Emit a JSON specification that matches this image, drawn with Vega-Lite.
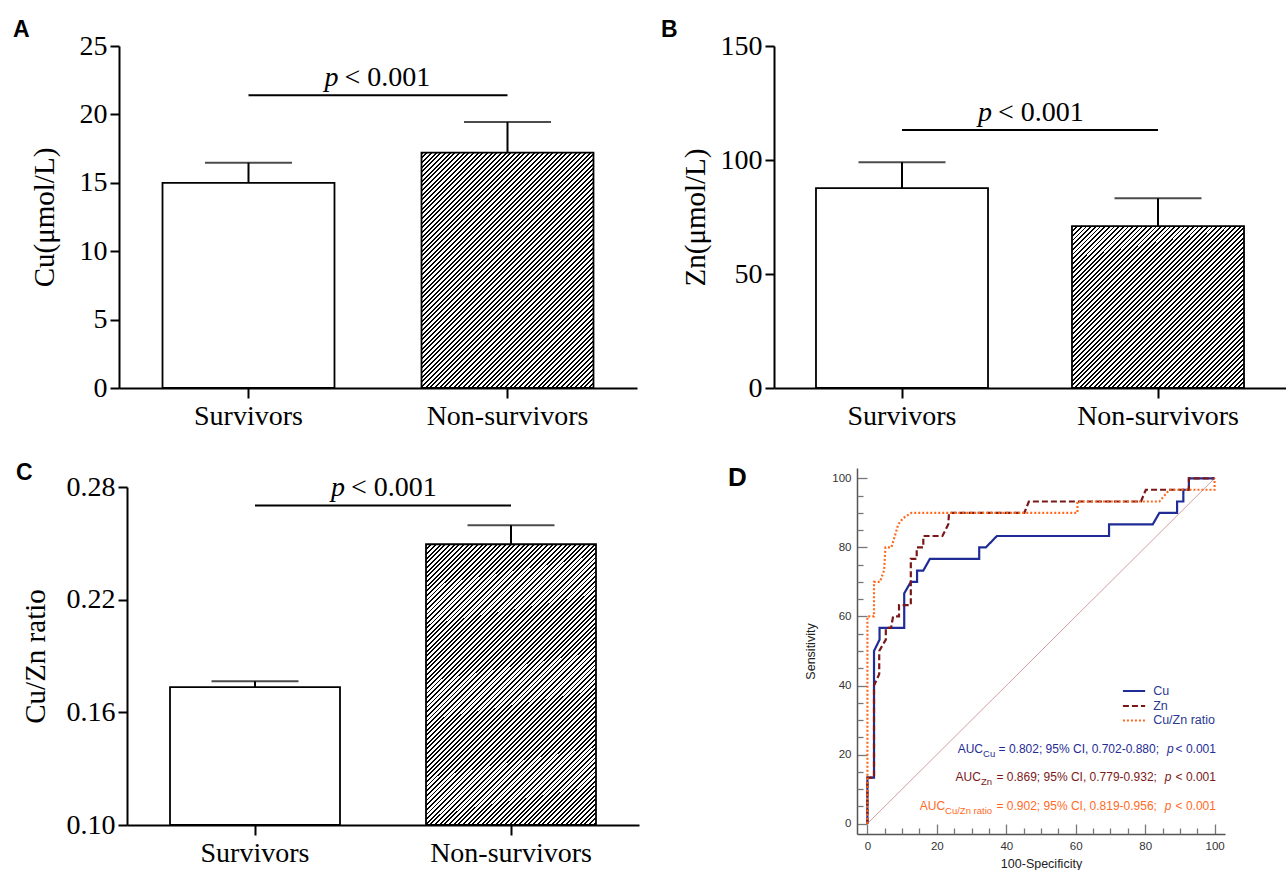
{
"$schema":"https://vega.github.io/schema/vega-lite/v6.json",
"padding":{"left":13,"top":18,"right":0,"bottom":0},
"background":"white",
"bounds":"flush",
"columns":2,
"spacing":{"row":80,"column":135},
"datasets":{
"stripes":[],
"roc":[
{"s":"Cu","i":0,"fx":0,"fy":0},{"s":"Cu","i":1,"fx":0,"fy":13.3},{"s":"Cu","i":2,"fx":1.9,"fy":13.3},{"s":"Cu","i":3,"fx":1.9,"fy":50},{"s":"Cu","i":4,"fx":3.5,"fy":53.3},{"s":"Cu","i":5,"fx":3.5,"fy":56.7},{"s":"Cu","i":6,"fx":10.6,"fy":56.7},{"s":"Cu","i":7,"fx":10.6,"fy":66.7},{"s":"Cu","i":8,"fx":12.5,"fy":70},{"s":"Cu","i":9,"fx":14.3,"fy":70},{"s":"Cu","i":10,"fx":14.3,"fy":73.3},{"s":"Cu","i":11,"fx":16.1,"fy":73.3},{"s":"Cu","i":12,"fx":18,"fy":76.7},{"s":"Cu","i":13,"fx":32.2,"fy":76.7},{"s":"Cu","i":14,"fx":32.2,"fy":80},{"s":"Cu","i":15,"fx":34.1,"fy":80},{"s":"Cu","i":16,"fx":37.3,"fy":83.3},{"s":"Cu","i":17,"fx":69.6,"fy":83.3},{"s":"Cu","i":18,"fx":69.6,"fy":86.7},{"s":"Cu","i":19,"fx":82.2,"fy":86.7},{"s":"Cu","i":20,"fx":84.1,"fy":90},{"s":"Cu","i":21,"fx":89.2,"fy":90},{"s":"Cu","i":22,"fx":89.2,"fy":93.3},{"s":"Cu","i":23,"fx":91,"fy":93.3},{"s":"Cu","i":24,"fx":91,"fy":96.7},{"s":"Cu","i":25,"fx":92.6,"fy":96.7},{"s":"Cu","i":26,"fx":92.6,"fy":100},{"s":"Cu","i":27,"fx":100,"fy":100},
{"s":"Zn","i":0,"fx":0,"fy":0},{"s":"Zn","i":1,"fx":0,"fy":13.3},{"s":"Zn","i":2,"fx":1.9,"fy":13.3},{"s":"Zn","i":3,"fx":1.9,"fy":40},{"s":"Zn","i":4,"fx":3.4,"fy":43.3},{"s":"Zn","i":5,"fx":3.4,"fy":50},{"s":"Zn","i":6,"fx":5.3,"fy":53.3},{"s":"Zn","i":7,"fx":5.3,"fy":56.7},{"s":"Zn","i":8,"fx":6.8,"fy":56.7},{"s":"Zn","i":9,"fx":7.4,"fy":60},{"s":"Zn","i":10,"fx":9.1,"fy":60},{"s":"Zn","i":11,"fx":9.1,"fy":63.3},{"s":"Zn","i":12,"fx":12.5,"fy":63.3},{"s":"Zn","i":13,"fx":12.5,"fy":76.7},{"s":"Zn","i":14,"fx":14.2,"fy":76.7},{"s":"Zn","i":15,"fx":14.2,"fy":80},{"s":"Zn","i":16,"fx":16.1,"fy":80},{"s":"Zn","i":17,"fx":16.1,"fy":83.3},{"s":"Zn","i":18,"fx":21.6,"fy":83.3},{"s":"Zn","i":19,"fx":23.3,"fy":86.7},{"s":"Zn","i":20,"fx":23.5,"fy":90},{"s":"Zn","i":21,"fx":45.2,"fy":90},{"s":"Zn","i":22,"fx":46.5,"fy":93.3},{"s":"Zn","i":23,"fx":78.8,"fy":93.3},{"s":"Zn","i":24,"fx":80.2,"fy":96.7},{"s":"Zn","i":25,"fx":92.6,"fy":96.7},{"s":"Zn","i":26,"fx":92.6,"fy":100},{"s":"Zn","i":27,"fx":100,"fy":100},
{"s":"Cu/Zn ratio","i":0,"fx":0,"fy":0},{"s":"Cu/Zn ratio","i":1,"fx":0,"fy":60},{"s":"Cu/Zn ratio","i":2,"fx":1.9,"fy":60},{"s":"Cu/Zn ratio","i":3,"fx":1.9,"fy":70},{"s":"Cu/Zn ratio","i":4,"fx":3.6,"fy":70},{"s":"Cu/Zn ratio","i":5,"fx":4.8,"fy":73.3},{"s":"Cu/Zn ratio","i":6,"fx":5.2,"fy":80},{"s":"Cu/Zn ratio","i":7,"fx":6.9,"fy":80},{"s":"Cu/Zn ratio","i":8,"fx":7.9,"fy":83.3},{"s":"Cu/Zn ratio","i":9,"fx":8.9,"fy":86.7},{"s":"Cu/Zn ratio","i":10,"fx":10.3,"fy":88.5},{"s":"Cu/Zn ratio","i":11,"fx":12.7,"fy":90},{"s":"Cu/Zn ratio","i":12,"fx":60.5,"fy":90},{"s":"Cu/Zn ratio","i":13,"fx":60.5,"fy":93.3},{"s":"Cu/Zn ratio","i":14,"fx":84.1,"fy":93.3},{"s":"Cu/Zn ratio","i":15,"fx":87,"fy":96.7},{"s":"Cu/Zn ratio","i":16,"fx":100,"fy":96.7},{"s":"Cu/Zn ratio","i":17,"fx":100,"fy":100}
],
"diag":[{"fx":0,"fy":0},{"fx":100,"fy":100}],
"leg":[
{"s":"Cu","x1":73.6,"x2":80.0,"tx":82.3,"ly":38.4},
{"s":"Zn","x1":73.6,"x2":80.0,"tx":82.3,"ly":34.1},
{"s":"Cu/Zn ratio","x1":73.6,"x2":80.0,"tx":82.3,"ly":29.9}
],
"auc":[
{"s":"Cu","y":21.5,"a":"AUC","sub":"Cu","body":"= 0.802; 95% CI, 0.702-0.880;","p":"p","t":"< 0.001","xa":33.3,"xs":36.8,"xb":84.0,"xp":88.2,"xt":100.4},
{"s":"Zn","y":13.4,"a":"AUC","sub":"Zn","body":"= 0.869; 95% CI, 0.779-0.932;","p":"p","t":"< 0.001","xa":32.7,"xs":35.9,"xb":83.4,"xp":87.6,"xt":100.4},
{"s":"Cu/Zn ratio","y":5.1,"a":"AUC","sub":"Cu/Zn ratio","body":"= 0.902; 95% CI, 0.819-0.956;","p":"p","t":"< 0.001","xa":22.4,"xs":35.9,"xb":83.4,"xp":87.6,"xt":100.4}
]
},
"concat":[
{"width":518,"height":342,
"title":{"text":"A","fontSize":23,"dx":-106,"dy":13.7},
"data":{"values":[{"group":"Survivors","mean":15.0,"err":16.47},{"group":"Non-survivors","mean":17.2,"err":19.44}]},
"encoding":{"x":{"field":"group","type":"nominal","sort":["Survivors","Non-survivors"],"title":null,"scale":{"domain":["Survivors","Non-survivors"],"paddingInner":0.336,"paddingOuter":0.168}}},
"layer":[
{"mark":{"type":"rule","color":"#000","strokeWidth":2},"encoding":{"y":{"field":"mean","type":"quantitative","title":"Cu(μmol/L)","scale":{"domain":[0,25],"nice":false},"axis":{"values":[0,5,10,15,20,25],"titlePadding":20}},"y2":{"field":"err"}}},
{"mark":{"type":"tick","color":"#000","size":87,"thickness":2},"encoding":{"y":{"field":"err","type":"quantitative","title":"Cu(μmol/L)"}}},
{"transform":[{"filter":"datum.group == 'Survivors'"}],"mark":{"type":"bar","fill":"#fff","stroke":"#000","strokeWidth":1.8},"encoding":{"y":{"field":"mean","type":"quantitative","title":"Cu(μmol/L)"}}},
{"transform":[{"filter":"datum.group == 'Non-survivors'"}],"mark":{"type":"bar","stroke":"#000","strokeWidth":1.8,"fill":{"gradient":"linear","x1":0,"y1":0,"x2":0.945,"y2":1.293,"stops":[{"offset":0,"color":"#000"},{"offset":0.004,"color":"#000"},{"offset":0.004,"color":"#fff"},{"offset":0.01,"color":"#fff"},{"offset":0.01,"color":"#000"},{"offset":0.014,"color":"#000"},{"offset":0.014,"color":"#fff"},{"offset":0.02,"color":"#fff"},{"offset":0.02,"color":"#000"},{"offset":0.024,"color":"#000"},{"offset":0.024,"color":"#fff"},{"offset":0.03,"color":"#fff"},{"offset":0.03,"color":"#000"},{"offset":0.034,"color":"#000"},{"offset":0.034,"color":"#fff"},{"offset":0.04,"color":"#fff"},{"offset":0.04,"color":"#000"},{"offset":0.044,"color":"#000"},{"offset":0.044,"color":"#fff"},{"offset":0.05,"color":"#fff"},{"offset":0.05,"color":"#000"},{"offset":0.054,"color":"#000"},{"offset":0.054,"color":"#fff"},{"offset":0.06,"color":"#fff"},{"offset":0.06,"color":"#000"},{"offset":0.064,"color":"#000"},{"offset":0.064,"color":"#fff"},{"offset":0.07,"color":"#fff"},{"offset":0.07,"color":"#000"},{"offset":0.074,"color":"#000"},{"offset":0.074,"color":"#fff"},{"offset":0.08,"color":"#fff"},{"offset":0.08,"color":"#000"},{"offset":0.084,"color":"#000"},{"offset":0.084,"color":"#fff"},{"offset":0.09,"color":"#fff"},{"offset":0.09,"color":"#000"},{"offset":0.094,"color":"#000"},{"offset":0.094,"color":"#fff"},{"offset":0.1,"color":"#fff"},{"offset":0.1,"color":"#000"},{"offset":0.104,"color":"#000"},{"offset":0.104,"color":"#fff"},{"offset":0.11,"color":"#fff"},{"offset":0.11,"color":"#000"},{"offset":0.114,"color":"#000"},{"offset":0.114,"color":"#fff"},{"offset":0.12,"color":"#fff"},{"offset":0.12,"color":"#000"},{"offset":0.124,"color":"#000"},{"offset":0.124,"color":"#fff"},{"offset":0.13,"color":"#fff"},{"offset":0.13,"color":"#000"},{"offset":0.134,"color":"#000"},{"offset":0.134,"color":"#fff"},{"offset":0.14,"color":"#fff"},{"offset":0.14,"color":"#000"},{"offset":0.144,"color":"#000"},{"offset":0.144,"color":"#fff"},{"offset":0.15,"color":"#fff"},{"offset":0.15,"color":"#000"},{"offset":0.154,"color":"#000"},{"offset":0.154,"color":"#fff"},{"offset":0.16,"color":"#fff"},{"offset":0.16,"color":"#000"},{"offset":0.164,"color":"#000"},{"offset":0.164,"color":"#fff"},{"offset":0.17,"color":"#fff"},{"offset":0.17,"color":"#000"},{"offset":0.174,"color":"#000"},{"offset":0.174,"color":"#fff"},{"offset":0.18,"color":"#fff"},{"offset":0.18,"color":"#000"},{"offset":0.184,"color":"#000"},{"offset":0.184,"color":"#fff"},{"offset":0.19,"color":"#fff"},{"offset":0.19,"color":"#000"},{"offset":0.194,"color":"#000"},{"offset":0.194,"color":"#fff"},{"offset":0.2,"color":"#fff"},{"offset":0.2,"color":"#000"},{"offset":0.204,"color":"#000"},{"offset":0.204,"color":"#fff"},{"offset":0.21,"color":"#fff"},{"offset":0.21,"color":"#000"},{"offset":0.214,"color":"#000"},{"offset":0.214,"color":"#fff"},{"offset":0.22,"color":"#fff"},{"offset":0.22,"color":"#000"},{"offset":0.224,"color":"#000"},{"offset":0.224,"color":"#fff"},{"offset":0.23,"color":"#fff"},{"offset":0.23,"color":"#000"},{"offset":0.234,"color":"#000"},{"offset":0.234,"color":"#fff"},{"offset":0.24,"color":"#fff"},{"offset":0.24,"color":"#000"},{"offset":0.244,"color":"#000"},{"offset":0.244,"color":"#fff"},{"offset":0.25,"color":"#fff"},{"offset":0.25,"color":"#000"},{"offset":0.254,"color":"#000"},{"offset":0.254,"color":"#fff"},{"offset":0.26,"color":"#fff"},{"offset":0.26,"color":"#000"},{"offset":0.264,"color":"#000"},{"offset":0.264,"color":"#fff"},{"offset":0.27,"color":"#fff"},{"offset":0.27,"color":"#000"},{"offset":0.274,"color":"#000"},{"offset":0.274,"color":"#fff"},{"offset":0.28,"color":"#fff"},{"offset":0.28,"color":"#000"},{"offset":0.284,"color":"#000"},{"offset":0.284,"color":"#fff"},{"offset":0.29,"color":"#fff"},{"offset":0.29,"color":"#000"},{"offset":0.294,"color":"#000"},{"offset":0.294,"color":"#fff"},{"offset":0.3,"color":"#fff"},{"offset":0.3,"color":"#000"},{"offset":0.304,"color":"#000"},{"offset":0.304,"color":"#fff"},{"offset":0.31,"color":"#fff"},{"offset":0.31,"color":"#000"},{"offset":0.314,"color":"#000"},{"offset":0.314,"color":"#fff"},{"offset":0.32,"color":"#fff"},{"offset":0.32,"color":"#000"},{"offset":0.324,"color":"#000"},{"offset":0.324,"color":"#fff"},{"offset":0.33,"color":"#fff"},{"offset":0.33,"color":"#000"},{"offset":0.334,"color":"#000"},{"offset":0.334,"color":"#fff"},{"offset":0.34,"color":"#fff"},{"offset":0.34,"color":"#000"},{"offset":0.344,"color":"#000"},{"offset":0.344,"color":"#fff"},{"offset":0.35,"color":"#fff"},{"offset":0.35,"color":"#000"},{"offset":0.354,"color":"#000"},{"offset":0.354,"color":"#fff"},{"offset":0.36,"color":"#fff"},{"offset":0.36,"color":"#000"},{"offset":0.364,"color":"#000"},{"offset":0.364,"color":"#fff"},{"offset":0.37,"color":"#fff"},{"offset":0.37,"color":"#000"},{"offset":0.374,"color":"#000"},{"offset":0.374,"color":"#fff"},{"offset":0.38,"color":"#fff"},{"offset":0.38,"color":"#000"},{"offset":0.384,"color":"#000"},{"offset":0.384,"color":"#fff"},{"offset":0.39,"color":"#fff"},{"offset":0.39,"color":"#000"},{"offset":0.394,"color":"#000"},{"offset":0.394,"color":"#fff"},{"offset":0.4,"color":"#fff"},{"offset":0.4,"color":"#000"},{"offset":0.404,"color":"#000"},{"offset":0.404,"color":"#fff"},{"offset":0.41,"color":"#fff"},{"offset":0.41,"color":"#000"},{"offset":0.414,"color":"#000"},{"offset":0.414,"color":"#fff"},{"offset":0.42,"color":"#fff"},{"offset":0.42,"color":"#000"},{"offset":0.424,"color":"#000"},{"offset":0.424,"color":"#fff"},{"offset":0.43,"color":"#fff"},{"offset":0.43,"color":"#000"},{"offset":0.434,"color":"#000"},{"offset":0.434,"color":"#fff"},{"offset":0.44,"color":"#fff"},{"offset":0.44,"color":"#000"},{"offset":0.444,"color":"#000"},{"offset":0.444,"color":"#fff"},{"offset":0.45,"color":"#fff"},{"offset":0.45,"color":"#000"},{"offset":0.454,"color":"#000"},{"offset":0.454,"color":"#fff"},{"offset":0.46,"color":"#fff"},{"offset":0.46,"color":"#000"},{"offset":0.464,"color":"#000"},{"offset":0.464,"color":"#fff"},{"offset":0.47,"color":"#fff"},{"offset":0.47,"color":"#000"},{"offset":0.474,"color":"#000"},{"offset":0.474,"color":"#fff"},{"offset":0.48,"color":"#fff"},{"offset":0.48,"color":"#000"},{"offset":0.484,"color":"#000"},{"offset":0.484,"color":"#fff"},{"offset":0.49,"color":"#fff"},{"offset":0.49,"color":"#000"},{"offset":0.494,"color":"#000"},{"offset":0.494,"color":"#fff"},{"offset":0.5,"color":"#fff"},{"offset":0.5,"color":"#000"},{"offset":0.504,"color":"#000"},{"offset":0.504,"color":"#fff"},{"offset":0.51,"color":"#fff"},{"offset":0.51,"color":"#000"},{"offset":0.514,"color":"#000"},{"offset":0.514,"color":"#fff"},{"offset":0.52,"color":"#fff"},{"offset":0.52,"color":"#000"},{"offset":0.524,"color":"#000"},{"offset":0.524,"color":"#fff"},{"offset":0.53,"color":"#fff"},{"offset":0.53,"color":"#000"},{"offset":0.534,"color":"#000"},{"offset":0.534,"color":"#fff"},{"offset":0.54,"color":"#fff"},{"offset":0.54,"color":"#000"},{"offset":0.544,"color":"#000"},{"offset":0.544,"color":"#fff"},{"offset":0.55,"color":"#fff"},{"offset":0.55,"color":"#000"},{"offset":0.554,"color":"#000"},{"offset":0.554,"color":"#fff"},{"offset":0.56,"color":"#fff"},{"offset":0.56,"color":"#000"},{"offset":0.564,"color":"#000"},{"offset":0.564,"color":"#fff"},{"offset":0.57,"color":"#fff"},{"offset":0.57,"color":"#000"},{"offset":0.574,"color":"#000"},{"offset":0.574,"color":"#fff"},{"offset":0.58,"color":"#fff"},{"offset":0.58,"color":"#000"},{"offset":0.584,"color":"#000"},{"offset":0.584,"color":"#fff"},{"offset":0.59,"color":"#fff"},{"offset":0.59,"color":"#000"},{"offset":0.594,"color":"#000"},{"offset":0.594,"color":"#fff"},{"offset":0.6,"color":"#fff"},{"offset":0.6,"color":"#000"},{"offset":0.604,"color":"#000"},{"offset":0.604,"color":"#fff"},{"offset":0.61,"color":"#fff"},{"offset":0.61,"color":"#000"},{"offset":0.614,"color":"#000"},{"offset":0.614,"color":"#fff"},{"offset":0.62,"color":"#fff"},{"offset":0.62,"color":"#000"},{"offset":0.624,"color":"#000"},{"offset":0.624,"color":"#fff"},{"offset":0.63,"color":"#fff"},{"offset":0.63,"color":"#000"},{"offset":0.634,"color":"#000"},{"offset":0.634,"color":"#fff"},{"offset":0.64,"color":"#fff"},{"offset":0.64,"color":"#000"},{"offset":0.644,"color":"#000"},{"offset":0.644,"color":"#fff"},{"offset":0.65,"color":"#fff"},{"offset":0.65,"color":"#000"},{"offset":0.654,"color":"#000"},{"offset":0.654,"color":"#fff"},{"offset":0.66,"color":"#fff"},{"offset":0.66,"color":"#000"},{"offset":0.664,"color":"#000"},{"offset":0.664,"color":"#fff"},{"offset":0.67,"color":"#fff"},{"offset":0.67,"color":"#000"},{"offset":0.674,"color":"#000"},{"offset":0.674,"color":"#fff"},{"offset":0.68,"color":"#fff"},{"offset":0.68,"color":"#000"},{"offset":0.684,"color":"#000"},{"offset":0.684,"color":"#fff"},{"offset":0.69,"color":"#fff"},{"offset":0.69,"color":"#000"},{"offset":0.694,"color":"#000"},{"offset":0.694,"color":"#fff"},{"offset":0.7,"color":"#fff"},{"offset":0.7,"color":"#000"},{"offset":0.704,"color":"#000"},{"offset":0.704,"color":"#fff"},{"offset":0.71,"color":"#fff"},{"offset":0.71,"color":"#000"},{"offset":0.714,"color":"#000"},{"offset":0.714,"color":"#fff"},{"offset":0.72,"color":"#fff"},{"offset":0.72,"color":"#000"},{"offset":0.724,"color":"#000"},{"offset":0.724,"color":"#fff"},{"offset":0.73,"color":"#fff"},{"offset":0.73,"color":"#000"},{"offset":0.734,"color":"#000"},{"offset":0.734,"color":"#fff"},{"offset":0.74,"color":"#fff"},{"offset":0.74,"color":"#000"},{"offset":0.744,"color":"#000"},{"offset":0.744,"color":"#fff"},{"offset":0.75,"color":"#fff"},{"offset":0.75,"color":"#000"},{"offset":0.754,"color":"#000"},{"offset":0.754,"color":"#fff"},{"offset":0.76,"color":"#fff"},{"offset":0.76,"color":"#000"},{"offset":0.764,"color":"#000"},{"offset":0.764,"color":"#fff"},{"offset":0.77,"color":"#fff"},{"offset":0.77,"color":"#000"},{"offset":0.774,"color":"#000"},{"offset":0.774,"color":"#fff"},{"offset":0.78,"color":"#fff"},{"offset":0.78,"color":"#000"},{"offset":0.784,"color":"#000"},{"offset":0.784,"color":"#fff"},{"offset":0.79,"color":"#fff"},{"offset":0.79,"color":"#000"},{"offset":0.794,"color":"#000"},{"offset":0.794,"color":"#fff"},{"offset":0.8,"color":"#fff"},{"offset":0.8,"color":"#000"},{"offset":0.804,"color":"#000"},{"offset":0.804,"color":"#fff"},{"offset":0.81,"color":"#fff"},{"offset":0.81,"color":"#000"},{"offset":0.814,"color":"#000"},{"offset":0.814,"color":"#fff"},{"offset":0.82,"color":"#fff"},{"offset":0.82,"color":"#000"},{"offset":0.824,"color":"#000"},{"offset":0.824,"color":"#fff"},{"offset":0.83,"color":"#fff"},{"offset":0.83,"color":"#000"},{"offset":0.834,"color":"#000"},{"offset":0.834,"color":"#fff"},{"offset":0.84,"color":"#fff"},{"offset":0.84,"color":"#000"},{"offset":0.844,"color":"#000"},{"offset":0.844,"color":"#fff"},{"offset":0.85,"color":"#fff"},{"offset":0.85,"color":"#000"},{"offset":0.854,"color":"#000"},{"offset":0.854,"color":"#fff"},{"offset":0.86,"color":"#fff"},{"offset":0.86,"color":"#000"},{"offset":0.864,"color":"#000"},{"offset":0.864,"color":"#fff"},{"offset":0.87,"color":"#fff"},{"offset":0.87,"color":"#000"},{"offset":0.874,"color":"#000"},{"offset":0.874,"color":"#fff"},{"offset":0.88,"color":"#fff"},{"offset":0.88,"color":"#000"},{"offset":0.884,"color":"#000"},{"offset":0.884,"color":"#fff"},{"offset":0.89,"color":"#fff"},{"offset":0.89,"color":"#000"},{"offset":0.894,"color":"#000"},{"offset":0.894,"color":"#fff"},{"offset":0.9,"color":"#fff"},{"offset":0.9,"color":"#000"},{"offset":0.904,"color":"#000"},{"offset":0.904,"color":"#fff"},{"offset":0.91,"color":"#fff"},{"offset":0.91,"color":"#000"},{"offset":0.914,"color":"#000"},{"offset":0.914,"color":"#fff"},{"offset":0.92,"color":"#fff"},{"offset":0.92,"color":"#000"},{"offset":0.924,"color":"#000"},{"offset":0.924,"color":"#fff"},{"offset":0.93,"color":"#fff"},{"offset":0.93,"color":"#000"},{"offset":0.934,"color":"#000"},{"offset":0.934,"color":"#fff"},{"offset":0.94,"color":"#fff"},{"offset":0.94,"color":"#000"},{"offset":0.944,"color":"#000"},{"offset":0.944,"color":"#fff"},{"offset":0.95,"color":"#fff"},{"offset":0.95,"color":"#000"},{"offset":0.954,"color":"#000"},{"offset":0.954,"color":"#fff"},{"offset":0.96,"color":"#fff"},{"offset":0.96,"color":"#000"},{"offset":0.964,"color":"#000"},{"offset":0.964,"color":"#fff"},{"offset":0.97,"color":"#fff"},{"offset":0.97,"color":"#000"},{"offset":0.974,"color":"#000"},{"offset":0.974,"color":"#fff"},{"offset":0.98,"color":"#fff"},{"offset":0.98,"color":"#000"},{"offset":0.984,"color":"#000"},{"offset":0.984,"color":"#fff"},{"offset":0.99,"color":"#fff"},{"offset":0.99,"color":"#000"},{"offset":0.994,"color":"#000"},{"offset":0.994,"color":"#fff"},{"offset":1,"color":"#fff"}]}},"encoding":{"y":{"field":"mean","type":"quantitative","title":"Cu(μmol/L)"}}},
{"data":{"values":[{"a":"Survivors","b":"Non-survivors","y":21.4}]},"mark":{"type":"rule","color":"#000","strokeWidth":2},"encoding":{"x":{"field":"a","type":"nominal","sort":["Survivors","Non-survivors"],"title":null},"x2":{"field":"b"},"y":{"field":"y","type":"quantitative","title":"Cu(μmol/L)"}}},
{"data":{"values":[{"a":"Survivors","y":21.4,"p":"p"}]},"mark":{"type":"text","align":"right","baseline":"alphabetic","dx":90,"dy":-9,"font":"Liberation Serif","fontStyle":"italic","fontSize":28,"color":"#000"},"encoding":{"x":{"field":"a","type":"nominal","sort":["Survivors","Non-survivors"],"title":null},"y":{"field":"y","type":"quantitative","title":"Cu(μmol/L)"},"text":{"field":"p"}}},
{"data":{"values":[{"a":"Survivors","y":21.4,"rest":"< 0.001"}]},"mark":{"type":"text","align":"left","baseline":"alphabetic","dx":96,"dy":-9,"font":"Liberation Serif","fontSize":28,"color":"#000"},"encoding":{"x":{"field":"a","type":"nominal","sort":["Survivors","Non-survivors"],"title":null},"y":{"field":"y","type":"quantitative","title":"Cu(μmol/L)"},"text":{"field":"rest"}}}
]},
{"width":512,"height":342,
"title":{"text":"B","fontSize":23,"dx":-113,"dy":13.5},
"data":{"values":[{"group":"Survivors","mean":87.7,"err":99.0},{"group":"Non-survivors","mean":71.0,"err":83.2}]},
"encoding":{"x":{"field":"group","type":"nominal","sort":["Survivors","Non-survivors"],"title":null,"scale":{"domain":["Survivors","Non-survivors"],"paddingInner":0.328,"paddingOuter":0.164}}},
"layer":[
{"mark":{"type":"rule","color":"#000","strokeWidth":2},"encoding":{"y":{"field":"mean","type":"quantitative","title":"Zn(μmol/L)","scale":{"domain":[0,150],"nice":false},"axis":{"values":[0,50,100,150],"titlePadding":10}},"y2":{"field":"err"}}},
{"mark":{"type":"tick","color":"#000","size":87,"thickness":2},"encoding":{"y":{"field":"err","type":"quantitative","title":"Zn(μmol/L)"}}},
{"transform":[{"filter":"datum.group == 'Survivors'"}],"mark":{"type":"bar","fill":"#fff","stroke":"#000","strokeWidth":1.8},"encoding":{"y":{"field":"mean","type":"quantitative","title":"Zn(μmol/L)"}}},
{"transform":[{"filter":"datum.group == 'Non-survivors'"}],"mark":{"type":"bar","stroke":"#000","strokeWidth":1.8,"fill":{"gradient":"linear","x1":0,"y1":0,"x2":1.44,"y2":1.354,"stops":[{"offset":0,"color":"#000"},{"offset":0.004,"color":"#000"},{"offset":0.004,"color":"#fff"},{"offset":0.01,"color":"#fff"},{"offset":0.01,"color":"#000"},{"offset":0.014,"color":"#000"},{"offset":0.014,"color":"#fff"},{"offset":0.02,"color":"#fff"},{"offset":0.02,"color":"#000"},{"offset":0.024,"color":"#000"},{"offset":0.024,"color":"#fff"},{"offset":0.03,"color":"#fff"},{"offset":0.03,"color":"#000"},{"offset":0.034,"color":"#000"},{"offset":0.034,"color":"#fff"},{"offset":0.04,"color":"#fff"},{"offset":0.04,"color":"#000"},{"offset":0.044,"color":"#000"},{"offset":0.044,"color":"#fff"},{"offset":0.05,"color":"#fff"},{"offset":0.05,"color":"#000"},{"offset":0.054,"color":"#000"},{"offset":0.054,"color":"#fff"},{"offset":0.06,"color":"#fff"},{"offset":0.06,"color":"#000"},{"offset":0.064,"color":"#000"},{"offset":0.064,"color":"#fff"},{"offset":0.07,"color":"#fff"},{"offset":0.07,"color":"#000"},{"offset":0.074,"color":"#000"},{"offset":0.074,"color":"#fff"},{"offset":0.08,"color":"#fff"},{"offset":0.08,"color":"#000"},{"offset":0.084,"color":"#000"},{"offset":0.084,"color":"#fff"},{"offset":0.09,"color":"#fff"},{"offset":0.09,"color":"#000"},{"offset":0.094,"color":"#000"},{"offset":0.094,"color":"#fff"},{"offset":0.1,"color":"#fff"},{"offset":0.1,"color":"#000"},{"offset":0.104,"color":"#000"},{"offset":0.104,"color":"#fff"},{"offset":0.11,"color":"#fff"},{"offset":0.11,"color":"#000"},{"offset":0.114,"color":"#000"},{"offset":0.114,"color":"#fff"},{"offset":0.12,"color":"#fff"},{"offset":0.12,"color":"#000"},{"offset":0.124,"color":"#000"},{"offset":0.124,"color":"#fff"},{"offset":0.13,"color":"#fff"},{"offset":0.13,"color":"#000"},{"offset":0.134,"color":"#000"},{"offset":0.134,"color":"#fff"},{"offset":0.14,"color":"#fff"},{"offset":0.14,"color":"#000"},{"offset":0.144,"color":"#000"},{"offset":0.144,"color":"#fff"},{"offset":0.15,"color":"#fff"},{"offset":0.15,"color":"#000"},{"offset":0.154,"color":"#000"},{"offset":0.154,"color":"#fff"},{"offset":0.16,"color":"#fff"},{"offset":0.16,"color":"#000"},{"offset":0.164,"color":"#000"},{"offset":0.164,"color":"#fff"},{"offset":0.17,"color":"#fff"},{"offset":0.17,"color":"#000"},{"offset":0.174,"color":"#000"},{"offset":0.174,"color":"#fff"},{"offset":0.18,"color":"#fff"},{"offset":0.18,"color":"#000"},{"offset":0.184,"color":"#000"},{"offset":0.184,"color":"#fff"},{"offset":0.19,"color":"#fff"},{"offset":0.19,"color":"#000"},{"offset":0.194,"color":"#000"},{"offset":0.194,"color":"#fff"},{"offset":0.2,"color":"#fff"},{"offset":0.2,"color":"#000"},{"offset":0.204,"color":"#000"},{"offset":0.204,"color":"#fff"},{"offset":0.21,"color":"#fff"},{"offset":0.21,"color":"#000"},{"offset":0.214,"color":"#000"},{"offset":0.214,"color":"#fff"},{"offset":0.22,"color":"#fff"},{"offset":0.22,"color":"#000"},{"offset":0.224,"color":"#000"},{"offset":0.224,"color":"#fff"},{"offset":0.23,"color":"#fff"},{"offset":0.23,"color":"#000"},{"offset":0.234,"color":"#000"},{"offset":0.234,"color":"#fff"},{"offset":0.24,"color":"#fff"},{"offset":0.24,"color":"#000"},{"offset":0.244,"color":"#000"},{"offset":0.244,"color":"#fff"},{"offset":0.25,"color":"#fff"},{"offset":0.25,"color":"#000"},{"offset":0.254,"color":"#000"},{"offset":0.254,"color":"#fff"},{"offset":0.26,"color":"#fff"},{"offset":0.26,"color":"#000"},{"offset":0.264,"color":"#000"},{"offset":0.264,"color":"#fff"},{"offset":0.27,"color":"#fff"},{"offset":0.27,"color":"#000"},{"offset":0.274,"color":"#000"},{"offset":0.274,"color":"#fff"},{"offset":0.28,"color":"#fff"},{"offset":0.28,"color":"#000"},{"offset":0.284,"color":"#000"},{"offset":0.284,"color":"#fff"},{"offset":0.29,"color":"#fff"},{"offset":0.29,"color":"#000"},{"offset":0.294,"color":"#000"},{"offset":0.294,"color":"#fff"},{"offset":0.3,"color":"#fff"},{"offset":0.3,"color":"#000"},{"offset":0.304,"color":"#000"},{"offset":0.304,"color":"#fff"},{"offset":0.31,"color":"#fff"},{"offset":0.31,"color":"#000"},{"offset":0.314,"color":"#000"},{"offset":0.314,"color":"#fff"},{"offset":0.32,"color":"#fff"},{"offset":0.32,"color":"#000"},{"offset":0.324,"color":"#000"},{"offset":0.324,"color":"#fff"},{"offset":0.33,"color":"#fff"},{"offset":0.33,"color":"#000"},{"offset":0.334,"color":"#000"},{"offset":0.334,"color":"#fff"},{"offset":0.34,"color":"#fff"},{"offset":0.34,"color":"#000"},{"offset":0.344,"color":"#000"},{"offset":0.344,"color":"#fff"},{"offset":0.35,"color":"#fff"},{"offset":0.35,"color":"#000"},{"offset":0.354,"color":"#000"},{"offset":0.354,"color":"#fff"},{"offset":0.36,"color":"#fff"},{"offset":0.36,"color":"#000"},{"offset":0.364,"color":"#000"},{"offset":0.364,"color":"#fff"},{"offset":0.37,"color":"#fff"},{"offset":0.37,"color":"#000"},{"offset":0.374,"color":"#000"},{"offset":0.374,"color":"#fff"},{"offset":0.38,"color":"#fff"},{"offset":0.38,"color":"#000"},{"offset":0.384,"color":"#000"},{"offset":0.384,"color":"#fff"},{"offset":0.39,"color":"#fff"},{"offset":0.39,"color":"#000"},{"offset":0.394,"color":"#000"},{"offset":0.394,"color":"#fff"},{"offset":0.4,"color":"#fff"},{"offset":0.4,"color":"#000"},{"offset":0.404,"color":"#000"},{"offset":0.404,"color":"#fff"},{"offset":0.41,"color":"#fff"},{"offset":0.41,"color":"#000"},{"offset":0.414,"color":"#000"},{"offset":0.414,"color":"#fff"},{"offset":0.42,"color":"#fff"},{"offset":0.42,"color":"#000"},{"offset":0.424,"color":"#000"},{"offset":0.424,"color":"#fff"},{"offset":0.43,"color":"#fff"},{"offset":0.43,"color":"#000"},{"offset":0.434,"color":"#000"},{"offset":0.434,"color":"#fff"},{"offset":0.44,"color":"#fff"},{"offset":0.44,"color":"#000"},{"offset":0.444,"color":"#000"},{"offset":0.444,"color":"#fff"},{"offset":0.45,"color":"#fff"},{"offset":0.45,"color":"#000"},{"offset":0.454,"color":"#000"},{"offset":0.454,"color":"#fff"},{"offset":0.46,"color":"#fff"},{"offset":0.46,"color":"#000"},{"offset":0.464,"color":"#000"},{"offset":0.464,"color":"#fff"},{"offset":0.47,"color":"#fff"},{"offset":0.47,"color":"#000"},{"offset":0.474,"color":"#000"},{"offset":0.474,"color":"#fff"},{"offset":0.48,"color":"#fff"},{"offset":0.48,"color":"#000"},{"offset":0.484,"color":"#000"},{"offset":0.484,"color":"#fff"},{"offset":0.49,"color":"#fff"},{"offset":0.49,"color":"#000"},{"offset":0.494,"color":"#000"},{"offset":0.494,"color":"#fff"},{"offset":0.5,"color":"#fff"},{"offset":0.5,"color":"#000"},{"offset":0.504,"color":"#000"},{"offset":0.504,"color":"#fff"},{"offset":0.51,"color":"#fff"},{"offset":0.51,"color":"#000"},{"offset":0.514,"color":"#000"},{"offset":0.514,"color":"#fff"},{"offset":0.52,"color":"#fff"},{"offset":0.52,"color":"#000"},{"offset":0.524,"color":"#000"},{"offset":0.524,"color":"#fff"},{"offset":0.53,"color":"#fff"},{"offset":0.53,"color":"#000"},{"offset":0.534,"color":"#000"},{"offset":0.534,"color":"#fff"},{"offset":0.54,"color":"#fff"},{"offset":0.54,"color":"#000"},{"offset":0.544,"color":"#000"},{"offset":0.544,"color":"#fff"},{"offset":0.55,"color":"#fff"},{"offset":0.55,"color":"#000"},{"offset":0.554,"color":"#000"},{"offset":0.554,"color":"#fff"},{"offset":0.56,"color":"#fff"},{"offset":0.56,"color":"#000"},{"offset":0.564,"color":"#000"},{"offset":0.564,"color":"#fff"},{"offset":0.57,"color":"#fff"},{"offset":0.57,"color":"#000"},{"offset":0.574,"color":"#000"},{"offset":0.574,"color":"#fff"},{"offset":0.58,"color":"#fff"},{"offset":0.58,"color":"#000"},{"offset":0.584,"color":"#000"},{"offset":0.584,"color":"#fff"},{"offset":0.59,"color":"#fff"},{"offset":0.59,"color":"#000"},{"offset":0.594,"color":"#000"},{"offset":0.594,"color":"#fff"},{"offset":0.6,"color":"#fff"},{"offset":0.6,"color":"#000"},{"offset":0.604,"color":"#000"},{"offset":0.604,"color":"#fff"},{"offset":0.61,"color":"#fff"},{"offset":0.61,"color":"#000"},{"offset":0.614,"color":"#000"},{"offset":0.614,"color":"#fff"},{"offset":0.62,"color":"#fff"},{"offset":0.62,"color":"#000"},{"offset":0.624,"color":"#000"},{"offset":0.624,"color":"#fff"},{"offset":0.63,"color":"#fff"},{"offset":0.63,"color":"#000"},{"offset":0.634,"color":"#000"},{"offset":0.634,"color":"#fff"},{"offset":0.64,"color":"#fff"},{"offset":0.64,"color":"#000"},{"offset":0.644,"color":"#000"},{"offset":0.644,"color":"#fff"},{"offset":0.65,"color":"#fff"},{"offset":0.65,"color":"#000"},{"offset":0.654,"color":"#000"},{"offset":0.654,"color":"#fff"},{"offset":0.66,"color":"#fff"},{"offset":0.66,"color":"#000"},{"offset":0.664,"color":"#000"},{"offset":0.664,"color":"#fff"},{"offset":0.67,"color":"#fff"},{"offset":0.67,"color":"#000"},{"offset":0.674,"color":"#000"},{"offset":0.674,"color":"#fff"},{"offset":0.68,"color":"#fff"},{"offset":0.68,"color":"#000"},{"offset":0.684,"color":"#000"},{"offset":0.684,"color":"#fff"},{"offset":0.69,"color":"#fff"},{"offset":0.69,"color":"#000"},{"offset":0.694,"color":"#000"},{"offset":0.694,"color":"#fff"},{"offset":0.7,"color":"#fff"},{"offset":0.7,"color":"#000"},{"offset":0.704,"color":"#000"},{"offset":0.704,"color":"#fff"},{"offset":0.71,"color":"#fff"},{"offset":0.71,"color":"#000"},{"offset":0.714,"color":"#000"},{"offset":0.714,"color":"#fff"},{"offset":0.72,"color":"#fff"},{"offset":0.72,"color":"#000"},{"offset":0.724,"color":"#000"},{"offset":0.724,"color":"#fff"},{"offset":0.73,"color":"#fff"},{"offset":0.73,"color":"#000"},{"offset":0.734,"color":"#000"},{"offset":0.734,"color":"#fff"},{"offset":0.74,"color":"#fff"},{"offset":0.74,"color":"#000"},{"offset":0.744,"color":"#000"},{"offset":0.744,"color":"#fff"},{"offset":0.75,"color":"#fff"},{"offset":0.75,"color":"#000"},{"offset":0.754,"color":"#000"},{"offset":0.754,"color":"#fff"},{"offset":0.76,"color":"#fff"},{"offset":0.76,"color":"#000"},{"offset":0.764,"color":"#000"},{"offset":0.764,"color":"#fff"},{"offset":0.77,"color":"#fff"},{"offset":0.77,"color":"#000"},{"offset":0.774,"color":"#000"},{"offset":0.774,"color":"#fff"},{"offset":0.78,"color":"#fff"},{"offset":0.78,"color":"#000"},{"offset":0.784,"color":"#000"},{"offset":0.784,"color":"#fff"},{"offset":0.79,"color":"#fff"},{"offset":0.79,"color":"#000"},{"offset":0.794,"color":"#000"},{"offset":0.794,"color":"#fff"},{"offset":0.8,"color":"#fff"},{"offset":0.8,"color":"#000"},{"offset":0.804,"color":"#000"},{"offset":0.804,"color":"#fff"},{"offset":0.81,"color":"#fff"},{"offset":0.81,"color":"#000"},{"offset":0.814,"color":"#000"},{"offset":0.814,"color":"#fff"},{"offset":0.82,"color":"#fff"},{"offset":0.82,"color":"#000"},{"offset":0.824,"color":"#000"},{"offset":0.824,"color":"#fff"},{"offset":0.83,"color":"#fff"},{"offset":0.83,"color":"#000"},{"offset":0.834,"color":"#000"},{"offset":0.834,"color":"#fff"},{"offset":0.84,"color":"#fff"},{"offset":0.84,"color":"#000"},{"offset":0.844,"color":"#000"},{"offset":0.844,"color":"#fff"},{"offset":0.85,"color":"#fff"},{"offset":0.85,"color":"#000"},{"offset":0.854,"color":"#000"},{"offset":0.854,"color":"#fff"},{"offset":0.86,"color":"#fff"},{"offset":0.86,"color":"#000"},{"offset":0.864,"color":"#000"},{"offset":0.864,"color":"#fff"},{"offset":0.87,"color":"#fff"},{"offset":0.87,"color":"#000"},{"offset":0.874,"color":"#000"},{"offset":0.874,"color":"#fff"},{"offset":0.88,"color":"#fff"},{"offset":0.88,"color":"#000"},{"offset":0.884,"color":"#000"},{"offset":0.884,"color":"#fff"},{"offset":0.89,"color":"#fff"},{"offset":0.89,"color":"#000"},{"offset":0.894,"color":"#000"},{"offset":0.894,"color":"#fff"},{"offset":0.9,"color":"#fff"},{"offset":0.9,"color":"#000"},{"offset":0.904,"color":"#000"},{"offset":0.904,"color":"#fff"},{"offset":0.91,"color":"#fff"},{"offset":0.91,"color":"#000"},{"offset":0.914,"color":"#000"},{"offset":0.914,"color":"#fff"},{"offset":0.92,"color":"#fff"},{"offset":0.92,"color":"#000"},{"offset":0.924,"color":"#000"},{"offset":0.924,"color":"#fff"},{"offset":0.93,"color":"#fff"},{"offset":0.93,"color":"#000"},{"offset":0.934,"color":"#000"},{"offset":0.934,"color":"#fff"},{"offset":0.94,"color":"#fff"},{"offset":0.94,"color":"#000"},{"offset":0.944,"color":"#000"},{"offset":0.944,"color":"#fff"},{"offset":0.95,"color":"#fff"},{"offset":0.95,"color":"#000"},{"offset":0.954,"color":"#000"},{"offset":0.954,"color":"#fff"},{"offset":0.96,"color":"#fff"},{"offset":0.96,"color":"#000"},{"offset":0.964,"color":"#000"},{"offset":0.964,"color":"#fff"},{"offset":0.97,"color":"#fff"},{"offset":0.97,"color":"#000"},{"offset":0.974,"color":"#000"},{"offset":0.974,"color":"#fff"},{"offset":0.98,"color":"#fff"},{"offset":0.98,"color":"#000"},{"offset":0.984,"color":"#000"},{"offset":0.984,"color":"#fff"},{"offset":0.99,"color":"#fff"},{"offset":0.99,"color":"#000"},{"offset":0.994,"color":"#000"},{"offset":0.994,"color":"#fff"},{"offset":1,"color":"#fff"}]}},"encoding":{"y":{"field":"mean","type":"quantitative","title":"Zn(μmol/L)"}}},
{"data":{"values":[{"a":"Survivors","b":"Non-survivors","y":113.2}]},"mark":{"type":"rule","color":"#000","strokeWidth":2},"encoding":{"x":{"field":"a","type":"nominal","sort":["Survivors","Non-survivors"],"title":null},"x2":{"field":"b"},"y":{"field":"y","type":"quantitative","title":"Zn(μmol/L)"}}},
{"data":{"values":[{"a":"Survivors","y":113.2,"p":"p"}]},"mark":{"type":"text","align":"right","baseline":"alphabetic","dx":90,"dy":-9,"font":"Liberation Serif","fontStyle":"italic","fontSize":28,"color":"#000"},"encoding":{"x":{"field":"a","type":"nominal","sort":["Survivors","Non-survivors"],"title":null},"y":{"field":"y","type":"quantitative","title":"Zn(μmol/L)"},"text":{"field":"p"}}},
{"data":{"values":[{"a":"Survivors","y":113.2,"rest":"< 0.001"}]},"mark":{"type":"text","align":"left","baseline":"alphabetic","dx":96,"dy":-9,"font":"Liberation Serif","fontSize":28,"color":"#000"},"encoding":{"x":{"field":"a","type":"nominal","sort":["Survivors","Non-survivors"],"title":null},"y":{"field":"y","type":"quantitative","title":"Zn(μmol/L)"},"text":{"field":"rest"}}}
]},
{"width":520,"height":357,
"title":{"text":"C","fontSize":23,"dx":-103,"dy":21},
"data":{"values":[{"group":"Survivors","mean":0.1734,"err":0.1766},{"group":"Non-survivors","mean":0.2495,"err":0.2596}]},
"encoding":{"x":{"field":"group","type":"nominal","sort":["Survivors","Non-survivors"],"title":null,"scale":{"domain":["Survivors","Non-survivors"],"paddingInner":0.336,"paddingOuter":0.168,"rangeMin":8}}},
"layer":[
{"mark":{"type":"rule","color":"#000","strokeWidth":2},"encoding":{"y":{"field":"mean","type":"quantitative","title":"Cu/Zn ratio","scale":{"domain":[0.1,0.28],"nice":false,"zero":false,"rangeMax":19},"axis":{"values":[0.1,0.16,0.22,0.28],"format":".2f","titlePadding":16,"offset":-8}},"y2":{"field":"err"}}},
{"mark":{"type":"tick","color":"#000","size":87,"thickness":2},"encoding":{"y":{"field":"err","type":"quantitative","title":"Cu/Zn ratio"}}},
{"transform":[{"filter":"datum.group == 'Survivors'"}],"mark":{"type":"bar","fill":"#fff","stroke":"#000","strokeWidth":1.8},"encoding":{"y":{"field":"mean","type":"quantitative","title":"Cu/Zn ratio"},"y2":{"datum":0.1}}},
{"transform":[{"filter":"datum.group == 'Non-survivors'"}],"mark":{"type":"bar","stroke":"#000","strokeWidth":1.8,"fill":{"gradient":"linear","x1":0,"y1":0,"x2":0.733,"y2":1.214,"stops":[{"offset":0,"color":"#000"},{"offset":0.004,"color":"#000"},{"offset":0.004,"color":"#fff"},{"offset":0.01,"color":"#fff"},{"offset":0.01,"color":"#000"},{"offset":0.014,"color":"#000"},{"offset":0.014,"color":"#fff"},{"offset":0.02,"color":"#fff"},{"offset":0.02,"color":"#000"},{"offset":0.024,"color":"#000"},{"offset":0.024,"color":"#fff"},{"offset":0.03,"color":"#fff"},{"offset":0.03,"color":"#000"},{"offset":0.034,"color":"#000"},{"offset":0.034,"color":"#fff"},{"offset":0.04,"color":"#fff"},{"offset":0.04,"color":"#000"},{"offset":0.044,"color":"#000"},{"offset":0.044,"color":"#fff"},{"offset":0.05,"color":"#fff"},{"offset":0.05,"color":"#000"},{"offset":0.054,"color":"#000"},{"offset":0.054,"color":"#fff"},{"offset":0.06,"color":"#fff"},{"offset":0.06,"color":"#000"},{"offset":0.064,"color":"#000"},{"offset":0.064,"color":"#fff"},{"offset":0.07,"color":"#fff"},{"offset":0.07,"color":"#000"},{"offset":0.074,"color":"#000"},{"offset":0.074,"color":"#fff"},{"offset":0.08,"color":"#fff"},{"offset":0.08,"color":"#000"},{"offset":0.084,"color":"#000"},{"offset":0.084,"color":"#fff"},{"offset":0.09,"color":"#fff"},{"offset":0.09,"color":"#000"},{"offset":0.094,"color":"#000"},{"offset":0.094,"color":"#fff"},{"offset":0.1,"color":"#fff"},{"offset":0.1,"color":"#000"},{"offset":0.104,"color":"#000"},{"offset":0.104,"color":"#fff"},{"offset":0.11,"color":"#fff"},{"offset":0.11,"color":"#000"},{"offset":0.114,"color":"#000"},{"offset":0.114,"color":"#fff"},{"offset":0.12,"color":"#fff"},{"offset":0.12,"color":"#000"},{"offset":0.124,"color":"#000"},{"offset":0.124,"color":"#fff"},{"offset":0.13,"color":"#fff"},{"offset":0.13,"color":"#000"},{"offset":0.134,"color":"#000"},{"offset":0.134,"color":"#fff"},{"offset":0.14,"color":"#fff"},{"offset":0.14,"color":"#000"},{"offset":0.144,"color":"#000"},{"offset":0.144,"color":"#fff"},{"offset":0.15,"color":"#fff"},{"offset":0.15,"color":"#000"},{"offset":0.154,"color":"#000"},{"offset":0.154,"color":"#fff"},{"offset":0.16,"color":"#fff"},{"offset":0.16,"color":"#000"},{"offset":0.164,"color":"#000"},{"offset":0.164,"color":"#fff"},{"offset":0.17,"color":"#fff"},{"offset":0.17,"color":"#000"},{"offset":0.174,"color":"#000"},{"offset":0.174,"color":"#fff"},{"offset":0.18,"color":"#fff"},{"offset":0.18,"color":"#000"},{"offset":0.184,"color":"#000"},{"offset":0.184,"color":"#fff"},{"offset":0.19,"color":"#fff"},{"offset":0.19,"color":"#000"},{"offset":0.194,"color":"#000"},{"offset":0.194,"color":"#fff"},{"offset":0.2,"color":"#fff"},{"offset":0.2,"color":"#000"},{"offset":0.204,"color":"#000"},{"offset":0.204,"color":"#fff"},{"offset":0.21,"color":"#fff"},{"offset":0.21,"color":"#000"},{"offset":0.214,"color":"#000"},{"offset":0.214,"color":"#fff"},{"offset":0.22,"color":"#fff"},{"offset":0.22,"color":"#000"},{"offset":0.224,"color":"#000"},{"offset":0.224,"color":"#fff"},{"offset":0.23,"color":"#fff"},{"offset":0.23,"color":"#000"},{"offset":0.234,"color":"#000"},{"offset":0.234,"color":"#fff"},{"offset":0.24,"color":"#fff"},{"offset":0.24,"color":"#000"},{"offset":0.244,"color":"#000"},{"offset":0.244,"color":"#fff"},{"offset":0.25,"color":"#fff"},{"offset":0.25,"color":"#000"},{"offset":0.254,"color":"#000"},{"offset":0.254,"color":"#fff"},{"offset":0.26,"color":"#fff"},{"offset":0.26,"color":"#000"},{"offset":0.264,"color":"#000"},{"offset":0.264,"color":"#fff"},{"offset":0.27,"color":"#fff"},{"offset":0.27,"color":"#000"},{"offset":0.274,"color":"#000"},{"offset":0.274,"color":"#fff"},{"offset":0.28,"color":"#fff"},{"offset":0.28,"color":"#000"},{"offset":0.284,"color":"#000"},{"offset":0.284,"color":"#fff"},{"offset":0.29,"color":"#fff"},{"offset":0.29,"color":"#000"},{"offset":0.294,"color":"#000"},{"offset":0.294,"color":"#fff"},{"offset":0.3,"color":"#fff"},{"offset":0.3,"color":"#000"},{"offset":0.304,"color":"#000"},{"offset":0.304,"color":"#fff"},{"offset":0.31,"color":"#fff"},{"offset":0.31,"color":"#000"},{"offset":0.314,"color":"#000"},{"offset":0.314,"color":"#fff"},{"offset":0.32,"color":"#fff"},{"offset":0.32,"color":"#000"},{"offset":0.324,"color":"#000"},{"offset":0.324,"color":"#fff"},{"offset":0.33,"color":"#fff"},{"offset":0.33,"color":"#000"},{"offset":0.334,"color":"#000"},{"offset":0.334,"color":"#fff"},{"offset":0.34,"color":"#fff"},{"offset":0.34,"color":"#000"},{"offset":0.344,"color":"#000"},{"offset":0.344,"color":"#fff"},{"offset":0.35,"color":"#fff"},{"offset":0.35,"color":"#000"},{"offset":0.354,"color":"#000"},{"offset":0.354,"color":"#fff"},{"offset":0.36,"color":"#fff"},{"offset":0.36,"color":"#000"},{"offset":0.364,"color":"#000"},{"offset":0.364,"color":"#fff"},{"offset":0.37,"color":"#fff"},{"offset":0.37,"color":"#000"},{"offset":0.374,"color":"#000"},{"offset":0.374,"color":"#fff"},{"offset":0.38,"color":"#fff"},{"offset":0.38,"color":"#000"},{"offset":0.384,"color":"#000"},{"offset":0.384,"color":"#fff"},{"offset":0.39,"color":"#fff"},{"offset":0.39,"color":"#000"},{"offset":0.394,"color":"#000"},{"offset":0.394,"color":"#fff"},{"offset":0.4,"color":"#fff"},{"offset":0.4,"color":"#000"},{"offset":0.404,"color":"#000"},{"offset":0.404,"color":"#fff"},{"offset":0.41,"color":"#fff"},{"offset":0.41,"color":"#000"},{"offset":0.414,"color":"#000"},{"offset":0.414,"color":"#fff"},{"offset":0.42,"color":"#fff"},{"offset":0.42,"color":"#000"},{"offset":0.424,"color":"#000"},{"offset":0.424,"color":"#fff"},{"offset":0.43,"color":"#fff"},{"offset":0.43,"color":"#000"},{"offset":0.434,"color":"#000"},{"offset":0.434,"color":"#fff"},{"offset":0.44,"color":"#fff"},{"offset":0.44,"color":"#000"},{"offset":0.444,"color":"#000"},{"offset":0.444,"color":"#fff"},{"offset":0.45,"color":"#fff"},{"offset":0.45,"color":"#000"},{"offset":0.454,"color":"#000"},{"offset":0.454,"color":"#fff"},{"offset":0.46,"color":"#fff"},{"offset":0.46,"color":"#000"},{"offset":0.464,"color":"#000"},{"offset":0.464,"color":"#fff"},{"offset":0.47,"color":"#fff"},{"offset":0.47,"color":"#000"},{"offset":0.474,"color":"#000"},{"offset":0.474,"color":"#fff"},{"offset":0.48,"color":"#fff"},{"offset":0.48,"color":"#000"},{"offset":0.484,"color":"#000"},{"offset":0.484,"color":"#fff"},{"offset":0.49,"color":"#fff"},{"offset":0.49,"color":"#000"},{"offset":0.494,"color":"#000"},{"offset":0.494,"color":"#fff"},{"offset":0.5,"color":"#fff"},{"offset":0.5,"color":"#000"},{"offset":0.504,"color":"#000"},{"offset":0.504,"color":"#fff"},{"offset":0.51,"color":"#fff"},{"offset":0.51,"color":"#000"},{"offset":0.514,"color":"#000"},{"offset":0.514,"color":"#fff"},{"offset":0.52,"color":"#fff"},{"offset":0.52,"color":"#000"},{"offset":0.524,"color":"#000"},{"offset":0.524,"color":"#fff"},{"offset":0.53,"color":"#fff"},{"offset":0.53,"color":"#000"},{"offset":0.534,"color":"#000"},{"offset":0.534,"color":"#fff"},{"offset":0.54,"color":"#fff"},{"offset":0.54,"color":"#000"},{"offset":0.544,"color":"#000"},{"offset":0.544,"color":"#fff"},{"offset":0.55,"color":"#fff"},{"offset":0.55,"color":"#000"},{"offset":0.554,"color":"#000"},{"offset":0.554,"color":"#fff"},{"offset":0.56,"color":"#fff"},{"offset":0.56,"color":"#000"},{"offset":0.564,"color":"#000"},{"offset":0.564,"color":"#fff"},{"offset":0.57,"color":"#fff"},{"offset":0.57,"color":"#000"},{"offset":0.574,"color":"#000"},{"offset":0.574,"color":"#fff"},{"offset":0.58,"color":"#fff"},{"offset":0.58,"color":"#000"},{"offset":0.584,"color":"#000"},{"offset":0.584,"color":"#fff"},{"offset":0.59,"color":"#fff"},{"offset":0.59,"color":"#000"},{"offset":0.594,"color":"#000"},{"offset":0.594,"color":"#fff"},{"offset":0.6,"color":"#fff"},{"offset":0.6,"color":"#000"},{"offset":0.604,"color":"#000"},{"offset":0.604,"color":"#fff"},{"offset":0.61,"color":"#fff"},{"offset":0.61,"color":"#000"},{"offset":0.614,"color":"#000"},{"offset":0.614,"color":"#fff"},{"offset":0.62,"color":"#fff"},{"offset":0.62,"color":"#000"},{"offset":0.624,"color":"#000"},{"offset":0.624,"color":"#fff"},{"offset":0.63,"color":"#fff"},{"offset":0.63,"color":"#000"},{"offset":0.634,"color":"#000"},{"offset":0.634,"color":"#fff"},{"offset":0.64,"color":"#fff"},{"offset":0.64,"color":"#000"},{"offset":0.644,"color":"#000"},{"offset":0.644,"color":"#fff"},{"offset":0.65,"color":"#fff"},{"offset":0.65,"color":"#000"},{"offset":0.654,"color":"#000"},{"offset":0.654,"color":"#fff"},{"offset":0.66,"color":"#fff"},{"offset":0.66,"color":"#000"},{"offset":0.664,"color":"#000"},{"offset":0.664,"color":"#fff"},{"offset":0.67,"color":"#fff"},{"offset":0.67,"color":"#000"},{"offset":0.674,"color":"#000"},{"offset":0.674,"color":"#fff"},{"offset":0.68,"color":"#fff"},{"offset":0.68,"color":"#000"},{"offset":0.684,"color":"#000"},{"offset":0.684,"color":"#fff"},{"offset":0.69,"color":"#fff"},{"offset":0.69,"color":"#000"},{"offset":0.694,"color":"#000"},{"offset":0.694,"color":"#fff"},{"offset":0.7,"color":"#fff"},{"offset":0.7,"color":"#000"},{"offset":0.704,"color":"#000"},{"offset":0.704,"color":"#fff"},{"offset":0.71,"color":"#fff"},{"offset":0.71,"color":"#000"},{"offset":0.714,"color":"#000"},{"offset":0.714,"color":"#fff"},{"offset":0.72,"color":"#fff"},{"offset":0.72,"color":"#000"},{"offset":0.724,"color":"#000"},{"offset":0.724,"color":"#fff"},{"offset":0.73,"color":"#fff"},{"offset":0.73,"color":"#000"},{"offset":0.734,"color":"#000"},{"offset":0.734,"color":"#fff"},{"offset":0.74,"color":"#fff"},{"offset":0.74,"color":"#000"},{"offset":0.744,"color":"#000"},{"offset":0.744,"color":"#fff"},{"offset":0.75,"color":"#fff"},{"offset":0.75,"color":"#000"},{"offset":0.754,"color":"#000"},{"offset":0.754,"color":"#fff"},{"offset":0.76,"color":"#fff"},{"offset":0.76,"color":"#000"},{"offset":0.764,"color":"#000"},{"offset":0.764,"color":"#fff"},{"offset":0.77,"color":"#fff"},{"offset":0.77,"color":"#000"},{"offset":0.774,"color":"#000"},{"offset":0.774,"color":"#fff"},{"offset":0.78,"color":"#fff"},{"offset":0.78,"color":"#000"},{"offset":0.784,"color":"#000"},{"offset":0.784,"color":"#fff"},{"offset":0.79,"color":"#fff"},{"offset":0.79,"color":"#000"},{"offset":0.794,"color":"#000"},{"offset":0.794,"color":"#fff"},{"offset":0.8,"color":"#fff"},{"offset":0.8,"color":"#000"},{"offset":0.804,"color":"#000"},{"offset":0.804,"color":"#fff"},{"offset":0.81,"color":"#fff"},{"offset":0.81,"color":"#000"},{"offset":0.814,"color":"#000"},{"offset":0.814,"color":"#fff"},{"offset":0.82,"color":"#fff"},{"offset":0.82,"color":"#000"},{"offset":0.824,"color":"#000"},{"offset":0.824,"color":"#fff"},{"offset":0.83,"color":"#fff"},{"offset":0.83,"color":"#000"},{"offset":0.834,"color":"#000"},{"offset":0.834,"color":"#fff"},{"offset":0.84,"color":"#fff"},{"offset":0.84,"color":"#000"},{"offset":0.844,"color":"#000"},{"offset":0.844,"color":"#fff"},{"offset":0.85,"color":"#fff"},{"offset":0.85,"color":"#000"},{"offset":0.854,"color":"#000"},{"offset":0.854,"color":"#fff"},{"offset":0.86,"color":"#fff"},{"offset":0.86,"color":"#000"},{"offset":0.864,"color":"#000"},{"offset":0.864,"color":"#fff"},{"offset":0.87,"color":"#fff"},{"offset":0.87,"color":"#000"},{"offset":0.874,"color":"#000"},{"offset":0.874,"color":"#fff"},{"offset":0.88,"color":"#fff"},{"offset":0.88,"color":"#000"},{"offset":0.884,"color":"#000"},{"offset":0.884,"color":"#fff"},{"offset":0.89,"color":"#fff"},{"offset":0.89,"color":"#000"},{"offset":0.894,"color":"#000"},{"offset":0.894,"color":"#fff"},{"offset":0.9,"color":"#fff"},{"offset":0.9,"color":"#000"},{"offset":0.904,"color":"#000"},{"offset":0.904,"color":"#fff"},{"offset":0.91,"color":"#fff"},{"offset":0.91,"color":"#000"},{"offset":0.914,"color":"#000"},{"offset":0.914,"color":"#fff"},{"offset":0.92,"color":"#fff"},{"offset":0.92,"color":"#000"},{"offset":0.924,"color":"#000"},{"offset":0.924,"color":"#fff"},{"offset":0.93,"color":"#fff"},{"offset":0.93,"color":"#000"},{"offset":0.934,"color":"#000"},{"offset":0.934,"color":"#fff"},{"offset":0.94,"color":"#fff"},{"offset":0.94,"color":"#000"},{"offset":0.944,"color":"#000"},{"offset":0.944,"color":"#fff"},{"offset":0.95,"color":"#fff"},{"offset":0.95,"color":"#000"},{"offset":0.954,"color":"#000"},{"offset":0.954,"color":"#fff"},{"offset":0.96,"color":"#fff"},{"offset":0.96,"color":"#000"},{"offset":0.964,"color":"#000"},{"offset":0.964,"color":"#fff"},{"offset":0.97,"color":"#fff"},{"offset":0.97,"color":"#000"},{"offset":0.974,"color":"#000"},{"offset":0.974,"color":"#fff"},{"offset":0.98,"color":"#fff"},{"offset":0.98,"color":"#000"},{"offset":0.984,"color":"#000"},{"offset":0.984,"color":"#fff"},{"offset":0.99,"color":"#fff"},{"offset":0.99,"color":"#000"},{"offset":0.994,"color":"#000"},{"offset":0.994,"color":"#fff"},{"offset":1,"color":"#fff"}]}},"encoding":{"y":{"field":"mean","type":"quantitative","title":"Cu/Zn ratio"},"y2":{"datum":0.1}}},
{"data":{"values":[{"a":"Survivors","b":"Non-survivors","y":0.2702}]},"mark":{"type":"rule","color":"#000","strokeWidth":2},"encoding":{"x":{"field":"a","type":"nominal","sort":["Survivors","Non-survivors"],"title":null},"x2":{"field":"b"},"y":{"field":"y","type":"quantitative","title":"Cu/Zn ratio"}}},
{"data":{"values":[{"a":"Survivors","y":0.2702,"p":"p"}]},"mark":{"type":"text","align":"right","baseline":"alphabetic","dx":90,"dy":-9,"font":"Liberation Serif","fontStyle":"italic","fontSize":28,"color":"#000"},"encoding":{"x":{"field":"a","type":"nominal","sort":["Survivors","Non-survivors"],"title":null},"y":{"field":"y","type":"quantitative","title":"Cu/Zn ratio"},"text":{"field":"p"}}},
{"data":{"values":[{"a":"Survivors","y":0.2702,"rest":"< 0.001"}]},"mark":{"type":"text","align":"left","baseline":"alphabetic","dx":96,"dy":-9,"font":"Liberation Serif","fontSize":28,"color":"#000"},"encoding":{"x":{"field":"a","type":"nominal","sort":["Survivors","Non-survivors"],"title":null},"y":{"field":"y","type":"quantitative","title":"Cu/Zn ratio"},"text":{"field":"rest"}}}
]},
{"width":451,"height":366,
"title":{"text":"D","fontSize":26,"dx":-46,"dy":27},
"layer":[
{"data":{"name":"diag"},"mark":{"type":"line","color":"#cf9f9f","strokeWidth":1},
"encoding":{"x":{"field":"fx","type":"quantitative","scale":{"domain":[-3,103],"nice":false,"zero":false,"rangeMin":83},"axis":{"orient":"bottom","values":[0,20,40,60,80,100],"tickSize":-10,"labelPadding":16.5,"labelFont":"Liberation Sans","labelFontSize":11.5,"labelColor":"#333","title":"100-Specificity","titleFont":"Liberation Sans","titleFontSize":12.5,"titleColor":"#222","titlePadding":5,"domainColor":"#555","domainWidth":1.5,"tickColor":"#777","tickWidth":1.3}},
"y":{"field":"fy","type":"quantitative","scale":{"domain":[-3,103],"nice":false,"zero":false},"axis":{"orient":"left","offset":-83,"values":[0,20,40,60,80,100],"tickSize":-10,"labelPadding":16,"labelFont":"Liberation Sans","labelFontSize":11.5,"labelColor":"#333","title":"Sensitivity","titleFont":"Liberation Sans","titleFontSize":12.5,"titleColor":"#222","titlePadding":14,"domainColor":"#555","domainWidth":1.5,"tickColor":"#777","tickWidth":1.3}}}},
{"data":{"name":"diag"},"mark":{"type":"line","strokeOpacity":0},
"encoding":{"x":{"field":"fx","type":"quantitative","axis":{"orient":"bottom","values":[5,10,15,25,30,35,45,50,55,65,70,75,85,90,95],"tickSize":-6,"labels":false,"domain":false,"title":null,"tickColor":"#777","tickWidth":1.3}},
"y":{"field":"fy","type":"quantitative","axis":{"orient":"left","offset":-83,"values":[5,10,15,25,30,35,45,50,55,65,70,75,85,90,95],"tickSize":-6,"labels":false,"domain":false,"title":null,"tickColor":"#777","tickWidth":1.3}}}},
{"data":{"name":"roc"},"mark":{"type":"line","strokeWidth":2.2},
"encoding":{"x":{"field":"fx","type":"quantitative","axis":null},"y":{"field":"fy","type":"quantitative","axis":null},"order":{"field":"i","type":"quantitative"},
"color":{"field":"s","type":"nominal","scale":{"domain":["Cu","Zn","Cu/Zn ratio"],"range":["#1f2c96","#7a1818","#ff6a1f"]},"legend":null},
"strokeDash":{"field":"s","type":"nominal","scale":{"domain":["Cu","Zn","Cu/Zn ratio"],"range":[[1,0],[6,3],[2,2]]},"legend":null}}},
{"data":{"name":"leg"},"mark":{"type":"rule","strokeWidth":2},
"encoding":{"x":{"field":"x1","type":"quantitative","axis":null},"x2":{"field":"x2"},"y":{"field":"ly","type":"quantitative","axis":null},"color":{"field":"s","type":"nominal","legend":null},"strokeDash":{"field":"s","type":"nominal","legend":null}}},
{"data":{"name":"leg"},"mark":{"type":"text","align":"left","baseline":"middle","font":"Liberation Sans","fontSize":12.5,"color":"#2b3990"},
"encoding":{"x":{"field":"tx","type":"quantitative","axis":null},"y":{"field":"ly","type":"quantitative","axis":null},"text":{"field":"s"}}},
{"data":{"name":"auc"},"mark":{"type":"text","align":"right","baseline":"middle","font":"Liberation Sans","fontSize":12},
"encoding":{"x":{"field":"xa","type":"quantitative","axis":null},"y":{"field":"y","type":"quantitative","axis":null},"text":{"field":"a"},"color":{"field":"s","type":"nominal","legend":null}}},
{"data":{"name":"auc"},"mark":{"type":"text","align":"right","baseline":"middle","font":"Liberation Sans","fontSize":9.5,"dy":5},
"encoding":{"x":{"field":"xs","type":"quantitative","axis":null},"y":{"field":"y","type":"quantitative","axis":null},"text":{"field":"sub"},"color":{"field":"s","type":"nominal","legend":null}}},
{"data":{"name":"auc"},"mark":{"type":"text","align":"right","baseline":"middle","font":"Liberation Sans","fontSize":12},
"encoding":{"x":{"field":"xb","type":"quantitative","axis":null},"y":{"field":"y","type":"quantitative","axis":null},"text":{"field":"body"},"color":{"field":"s","type":"nominal","legend":null}}},
{"data":{"name":"auc"},"mark":{"type":"text","align":"right","baseline":"middle","font":"Liberation Sans","fontSize":12,"fontStyle":"italic"},
"encoding":{"x":{"field":"xp","type":"quantitative","axis":null},"y":{"field":"y","type":"quantitative","axis":null},"text":{"field":"p"},"color":{"field":"s","type":"nominal","legend":null}}},
{"data":{"name":"auc"},"mark":{"type":"text","align":"right","baseline":"middle","font":"Liberation Sans","fontSize":12},
"encoding":{"x":{"field":"xt","type":"quantitative","axis":null},"y":{"field":"y","type":"quantitative","axis":null},"text":{"field":"t"},"color":{"field":"s","type":"nominal","legend":null}}}
],
"resolve":{"axis":{"x":"independent","y":"independent"}}}
],
"config":{
"view":{"stroke":null},
"axis":{"grid":false,"domainColor":"#000","tickColor":"#000","labelColor":"#000","titleColor":"#000","labelFont":"Liberation Serif","titleFont":"Liberation Serif","labelFontSize":28,"titleFontSize":29,"titleFontWeight":"normal","domainWidth":2,"tickWidth":2},
"axisX":{"labelAngle":0,"tickSize":10,"labelPadding":4},
"axisY":{"tickSize":9,"labelPadding":3},
"title":{"font":"Liberation Sans","fontWeight":"bold","anchor":"start","frame":"group","offset":0,"color":"#000","baseline":"alphabetic"}
}
}
